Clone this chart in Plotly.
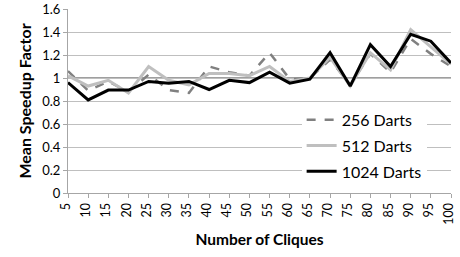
import plotly.graph_objects as go

cliques = [5, 10, 15, 20, 25, 30, 35, 40, 45, 50, 55, 60, 65, 70, 75, 80, 85, 90, 95, 100]
darts_256 = [1.06, 0.89, 0.97, 0.88, 1.03, 0.895, 0.87, 1.10, 1.05, 1.02, 1.22, 0.99, 1.00, 1.16, 0.94, 1.21, 1.05, 1.34, 1.21, 1.10]
darts_512 = [1.02, 0.93, 0.98, 0.87, 1.10, 0.98, 0.94, 1.04, 1.04, 1.02, 1.10, 0.97, 1.00, 1.18, 0.93, 1.22, 1.07, 1.42, 1.27, 1.12]
darts_1024 = [0.96, 0.81, 0.895, 0.895, 0.97, 0.955, 0.97, 0.90, 0.98, 0.96, 1.05, 0.955, 0.99, 1.22, 0.93, 1.29, 1.10, 1.38, 1.32, 1.13]
y_ticks = [0, 0.2, 0.4, 0.6, 0.8, 1, 1.2, 1.4, 1.6]
y_tick_text = ["0", "0.2", "0.4", "0.6", "0.8", "1", "1.2", "1.4", "1.6"]
baseline = 1.0

FONT = "Lato, 'Open Sans', sans-serif"

fig = go.Figure()
fig.add_trace(go.Scatter(x=cliques, y=darts_256, mode="lines", name="256 Darts", legendgroup="a",
                         line=dict(color="#808080", width=2.5, dash="dash"), cliponaxis=False))
fig.add_trace(go.Scatter(x=cliques, y=darts_512, mode="lines", name="512 Darts", legendgroup="b",
                         line=dict(color="#bfbfbf", width=3), cliponaxis=False))
fig.add_trace(go.Scatter(x=cliques, y=darts_1024, mode="lines", name="1024 Darts", legendgroup="c",
                         line=dict(color="#000000", width=3), cliponaxis=False))

fig.add_hline(y=baseline, line=dict(color="#7f7f7f", width=1.5), layer="below")

fig.update_layout(
    width=460, height=257,
    margin=dict(l=68, r=9, t=9, b=64, autoexpand=False),
    paper_bgcolor="white", plot_bgcolor="white",
    font=dict(family=FONT, size=13, color="#000000"),
    showlegend=True,
    legend=dict(x=0.61, y=0.49, xanchor="left", yanchor="top",
                bgcolor="white", font=dict(family=FONT, size=16),
                tracegroupgap=2, itemwidth=30),
    xaxis=dict(
        range=[5, 100], tickvals=cliques, ticktext=[str(c) for c in cliques],
        tickangle=-90, ticks="outside", ticklen=4, tickcolor="#a6a6a6",
        showline=True, linecolor="#a6a6a6", linewidth=1, showgrid=False, zeroline=False,
        tickfont=dict(size=12.5, family=FONT), automargin=False, ticklabelshift=-2,
        title=dict(text="<b>Number of Cliques</b>", font=dict(size=15.5, family=FONT), standoff=10),
    ),
    yaxis=dict(
        range=[0, 1.6], tickvals=y_ticks, ticktext=y_tick_text,
        ticks="outside", ticklen=4, tickcolor="#a6a6a6",
        showline=True, linecolor="#a6a6a6", linewidth=1,
        showgrid=True, gridcolor="#bfbfbf", gridwidth=1, zeroline=False,
        tickfont=dict(size=13, family=FONT), automargin=False,
        title=dict(text="<b>Mean Speedup Factor</b>", font=dict(size=16, family=FONT), standoff=6),
    ),
)

fig.write_html("out.html", post_script="document.body.style.margin='0';",
               config={"displayModeBar": False})
